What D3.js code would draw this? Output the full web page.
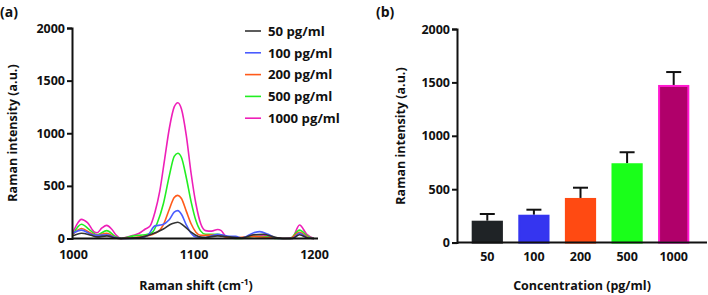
<!DOCTYPE html>
<html>
<head>
<meta charset="utf-8">
<script src="https://cdn.jsdelivr.net/npm/d3@7"></script>
<style>
  body { margin: 0; background: #fff; }
  svg text { font-family: 'Open Sans', sans-serif; font-weight: bold; fill: #111; }
</style>
</head>
<body>
<svg id="chart" width="708" height="295"></svg>
<script>
// panel (a): spectra, [Raman shift, intensity]
const spec50 = [[1000,25],[1007,50],[1015,30],[1020,15],[1028,25],[1035,5],[1040,0],[1055,10],[1065,40],[1075,90],[1082,140],[1087,155],[1092,120],[1098,60],[1104,20],[1110,10],[1120,25],[1130,15],[1140,5],[1150,35],[1158,40],[1165,20],[1175,0],[1182,0],[1188,35],[1195,5],[1200,0]]
const spec100 = [[1000,50],[1007,80],[1015,40],[1020,30],[1028,35],[1035,10],[1040,0],[1055,5],[1062,30],[1068,120],[1074,130],[1080,180],[1084,250],[1087,265],[1090,230],[1094,130],[1098,50],[1102,15],[1110,10],[1120,40],[1130,20],[1135,20],[1140,5],[1150,55],[1155,65],[1162,40],[1170,0],[1182,0],[1188,50],[1195,5],[1200,0]]
const spec200 = [[1000,40],[1007,95],[1015,50],[1020,30],[1028,50],[1035,10],[1040,0],[1060,20],[1070,60],[1075,130],[1080,280],[1084,390],[1087,410],[1090,380],[1094,260],[1098,140],[1102,60],[1106,30],[1120,35],[1130,5],[1150,20],[1160,10],[1180,0],[1188,60],[1195,10],[1200,0]]
const spec500 = [[1000,40],[1007,135],[1014,80],[1020,35],[1028,75],[1035,20],[1040,0],[1050,25],[1060,35],[1066,60],[1070,150],[1075,330],[1080,600],[1084,780],[1087,810],[1090,770],[1094,580],[1098,350],[1102,170],[1106,70],[1110,40],[1120,40],[1125,25],[1130,5],[1140,0],[1150,20],[1160,15],[1170,0],[1180,0],[1188,80],[1195,20],[1200,0]]
const spec1000 = [[1000,60],[1003,130],[1007,182],[1012,150],[1018,60],[1020,55],[1024,100],[1028,125],[1032,90],[1036,30],[1040,0],[1045,15],[1050,30],[1055,50],[1060,90],[1064,120],[1068,250],[1072,450],[1076,750],[1080,1050],[1084,1250],[1087,1290],[1090,1230],[1094,980],[1098,620],[1102,330],[1106,140],[1110,75],[1115,70],[1120,85],[1123,75],[1126,30],[1130,10],[1140,5],[1150,35],[1158,30],[1165,10],[1175,0],[1182,10],[1188,128],[1194,40],[1200,0]]

const seriesNames = ['50 pg/ml', '100 pg/ml', '200 pg/ml', '500 pg/ml', '1000 pg/ml']
const lineColors = ['#333333', '#4a5cff', '#ff5a1a', '#22ee22', '#ee1fb8']
const yTicks = [0, 500, 1000, 1500, 2000]
const xTicks = [1000, 1100, 1200]

// panel (b): bars
const concentrations = ['50', '100', '200', '500', '1000']
const barMeans = [205, 261, 418, 743, 1476]
const barErrors = [63, 47, 96, 103, 121]
const barFills = ['#1f2326', '#3535f0', '#ff4a12', '#1aff1a', '#b0006a']
const barStrokes = ['#1f2326', '#3535f0', '#ff4a12', '#1aff1a', '#ff19d0']

function main() {
    let svg = d3.select('#chart')
    let fmt = d3.format('d')

    // ---------- panel (a)
    let xa = d3.scaleLinear().domain([1000, 1200]).range([73, 314]),
        ya = d3.scaleLinear().domain([0, 2000]).range([238.5, 28])

    svg.append('text').attr('x', 0).attr('y', 17).style('font-size', '14px').text('(a)')

    let spectra = [spec50, spec100, spec200, spec500, spec1000]

    let line = d3.line().curve(d3.curveMonotoneX)
        .x(d => xa(d[0])).y(d => ya(d[1]))

    // draw highest series first so that low ones sit on top
    spectra.map((s, i) => ({s: s, i: i})).reverse().forEach(o => {
        svg.append('path')
            .attr('d', line(o.s))
            .attr('fill', 'none')
            .attr('stroke', lineColors[o.i])
            .attr('stroke-width', 1.6)
    })

    svg.append('g')
        .attr('transform', 'translate(72,0)')
        .call(d3.axisLeft(ya).tickValues(yTicks).tickFormat(fmt).tickSize(5).tickPadding(2))
    let xAxisA = svg.append('g')
        .attr('transform', 'translate(0,' + ya(0) + ')')
        .call(d3.axisBottom(xa).tickValues(xTicks).tickFormat(fmt).tickSize(0).tickPadding(12).tickSizeOuter(0))
    xAxisA.select('.domain').attr('d', 'M72,0H318')

    svg.append('text')
        .attr('text-anchor', 'middle')
        .attr('transform', 'rotate(-90)')
        .attr('x', -133).attr('y', 17)
        .style('font-size', '12.5px')
        .text('Raman intensity (a.u.)')

    let xt = svg.append('text')
        .attr('text-anchor', 'middle')
        .attr('x', 196).attr('y', 290)
        .style('font-size', '12.5px')
    xt.append('tspan').text('Raman shift (cm')
    xt.append('tspan').attr('dy', -5).style('font-size', '8.5px').text('-1')
    xt.append('tspan').attr('dy', 5).text(')')

    let legend = svg.append('g').attr('transform', 'translate(245,31)')
    seriesNames.forEach((n, i) => {
        let row = legend.append('g').attr('transform', 'translate(0,' + (i * 21.8) + ')')
        row.append('line').attr('x1', 0).attr('x2', 16).attr('y1', 0).attr('y2', 0)
            .attr('stroke', lineColors[i]).attr('stroke-width', 1.6)
        row.append('text').attr('x', 23).attr('y', 4.8).style('font-size', '13.2px').text(n)
    })

    // ---------- panel (b)
    let xb = d3.scaleBand().domain(concentrations).range([464, 697])
            .paddingInner(0.33).paddingOuter(0.165),
        yb = d3.scaleLinear().domain([0, 2000]).range([242.6, 29])

    svg.append('text').attr('x', 376).attr('y', 17).style('font-size', '14px').text('(b)')

    concentrations.forEach((c, i) => {
        let cx = xb(c) + xb.bandwidth() / 2
        svg.append('line')
            .attr('x1', cx).attr('x2', cx)
            .attr('y1', yb(barMeans[i])).attr('y2', yb(barMeans[i] + barErrors[i]))
            .attr('stroke', '#111').attr('stroke-width', 2)
        svg.append('line')
            .attr('x1', cx - 7.5).attr('x2', cx + 7.5)
            .attr('y1', yb(barMeans[i] + barErrors[i])).attr('y2', yb(barMeans[i] + barErrors[i]))
            .attr('stroke', '#111').attr('stroke-width', 2)
        svg.append('rect')
            .attr('x', xb(c) + 1).attr('width', xb.bandwidth() - 2)
            .attr('y', yb(barMeans[i]) + 1)
            .attr('height', yb(0) - yb(barMeans[i]) - 1)
            .attr('fill', barFills[i])
            .attr('stroke', barStrokes[i]).attr('stroke-width', 2)
    })

    svg.append('g')
        .attr('transform', 'translate(457,0)')
        .call(d3.axisLeft(yb).tickValues(yTicks).tickFormat(fmt).tickSize(5).tickPadding(2))
    let xAxisB = svg.append('g')
        .attr('transform', 'translate(0,' + yb(0) + ')')
        .call(d3.axisBottom(xb).tickSize(0).tickPadding(10))
    xAxisB.select('.domain').attr('d', 'M457,0H707')

    svg.append('text')
        .attr('text-anchor', 'middle')
        .attr('transform', 'rotate(-90)')
        .attr('x', -136).attr('y', 405)
        .style('font-size', '12.5px')
        .text('Raman intensity (a.u.)')

    svg.append('text')
        .attr('text-anchor', 'middle')
        .attr('x', 582).attr('y', 290)
        .style('font-size', '12.5px')
        .text('Concentration (pg/ml)')

    svg.selectAll('.tick text')
        .style('font-size', '12.5px').style('font-family', "'Open Sans', sans-serif")
        .style('font-weight', 'bold').attr('fill', '#111')
    svg.selectAll('.domain').attr('stroke', '#111').attr('stroke-width', 2)
    svg.selectAll('.tick line').attr('stroke', '#111').attr('stroke-width', 2)
}

main()
</script>
</body>
</html>
